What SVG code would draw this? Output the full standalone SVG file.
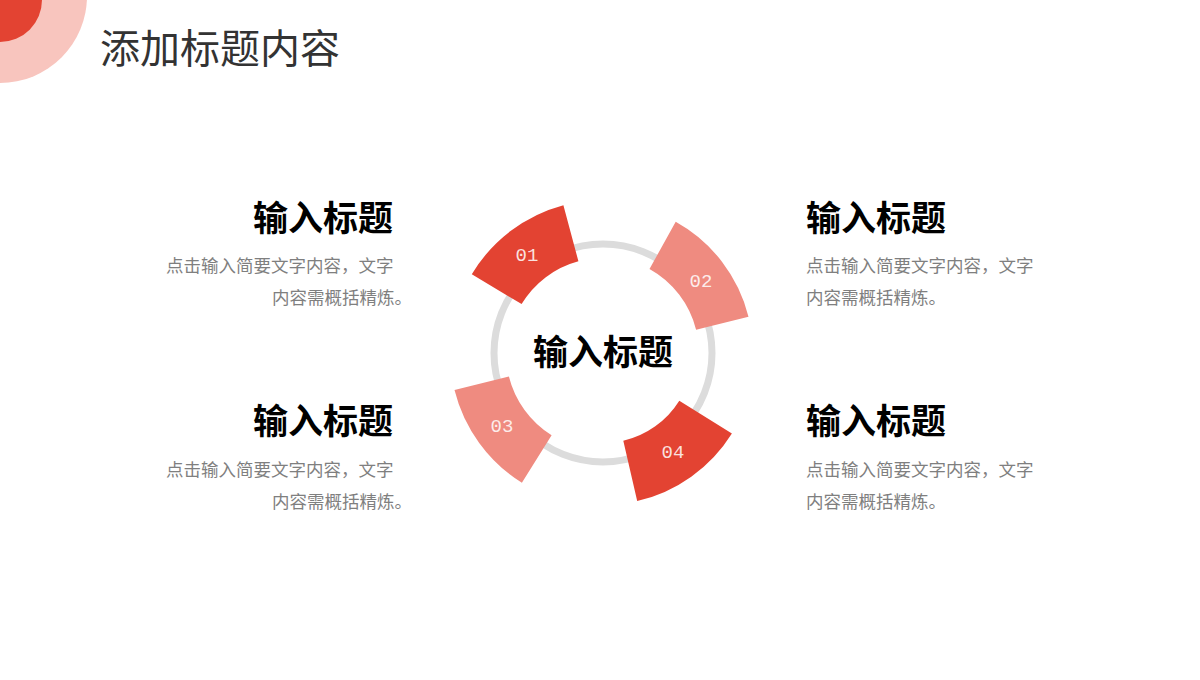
<svg xmlns="http://www.w3.org/2000/svg" width="1200" height="680" viewBox="0 0 1200 680">
<style>
.cjk{font-family:"Noto Sans CJK SC","Noto Sans",sans-serif}
.title{font-size:40px;fill:#333333}
.head{font-size:35px;font-weight:700;fill:#000000}
.body{font-size:17.5px;fill:#7f7f7f}
.num{font-family:"Liberation Mono","Courier New",monospace;font-size:19px;fill:#ffffff;fill-opacity:0.85;text-anchor:middle}
.dark{fill:#E34332}
.light{fill:#EF8B80}
</style>
<rect width="1200" height="680" fill="#ffffff"/>
<g id="corner">
<circle cx="0" cy="-4" r="87" fill="#F8C5BE"/>
<circle cx="0" cy="0" r="42" fill="#E34332"/>
</g>
<text class="cjk title" x="100" y="63">添加标题内容</text>
<g id="ring">
<circle cx="603" cy="353" r="109" fill="none" stroke="#DCDCDC" stroke-width="7"/>
</g>
<g id="seg01">
<path class="dark" d="M471.8,274.2 A153,153 0 0 1 563.4,205.2 L578.4,261.2 A95,95 0 0 0 521.6,304.1 Z"/>
<text class="num" x="527" y="261">01</text>
</g>
<g id="seg02">
<path class="light" d="M675.7,221.8 A150,150 0 0 1 748.5,316.7 L696.1,329.8 A96,96 0 0 0 649.5,269.0 Z"/>
<text class="num" x="701" y="287">02</text>
</g>
<g id="seg03">
<path class="light" d="M521.9,482.7 A153,153 0 0 1 454.5,390.0 L508.9,376.5 A97,97 0 0 0 551.6,435.3 Z"/>
<text class="num" x="502" y="432">03</text>
</g>
<g id="seg04">
<path class="dark" d="M731.9,433.5 A152,152 0 0 1 637.2,501.1 L623.3,440.7 A90,90 0 0 0 679.3,400.7 Z"/>
<text class="num" x="673" y="458">04</text>
</g>
<g id="center">
<text class="cjk head" x="603" y="365" text-anchor="middle">输入标题</text>
</g>
<g id="item1">
<text class="cjk head" x="393" y="231" text-anchor="end">输入标题</text>
<text class="cjk body" x="166" y="272">点击输入简要文字内容，文字</text>
<text class="cjk body" x="272" y="304">内容需概括精炼。</text>
</g>
<g id="item2">
<text class="cjk head" x="806" y="231">输入标题</text>
<text class="cjk body" x="806" y="272">点击输入简要文字内容，文字</text>
<text class="cjk body" x="806" y="304">内容需概括精炼。</text>
</g>
<g id="item3">
<text class="cjk head" x="393" y="434" text-anchor="end">输入标题</text>
<text class="cjk body" x="166" y="476">点击输入简要文字内容，文字</text>
<text class="cjk body" x="272" y="508">内容需概括精炼。</text>
</g>
<g id="item4">
<text class="cjk head" x="806" y="434">输入标题</text>
<text class="cjk body" x="806" y="476">点击输入简要文字内容，文字</text>
<text class="cjk body" x="806" y="508">内容需概括精炼。</text>
</g>
</svg>
